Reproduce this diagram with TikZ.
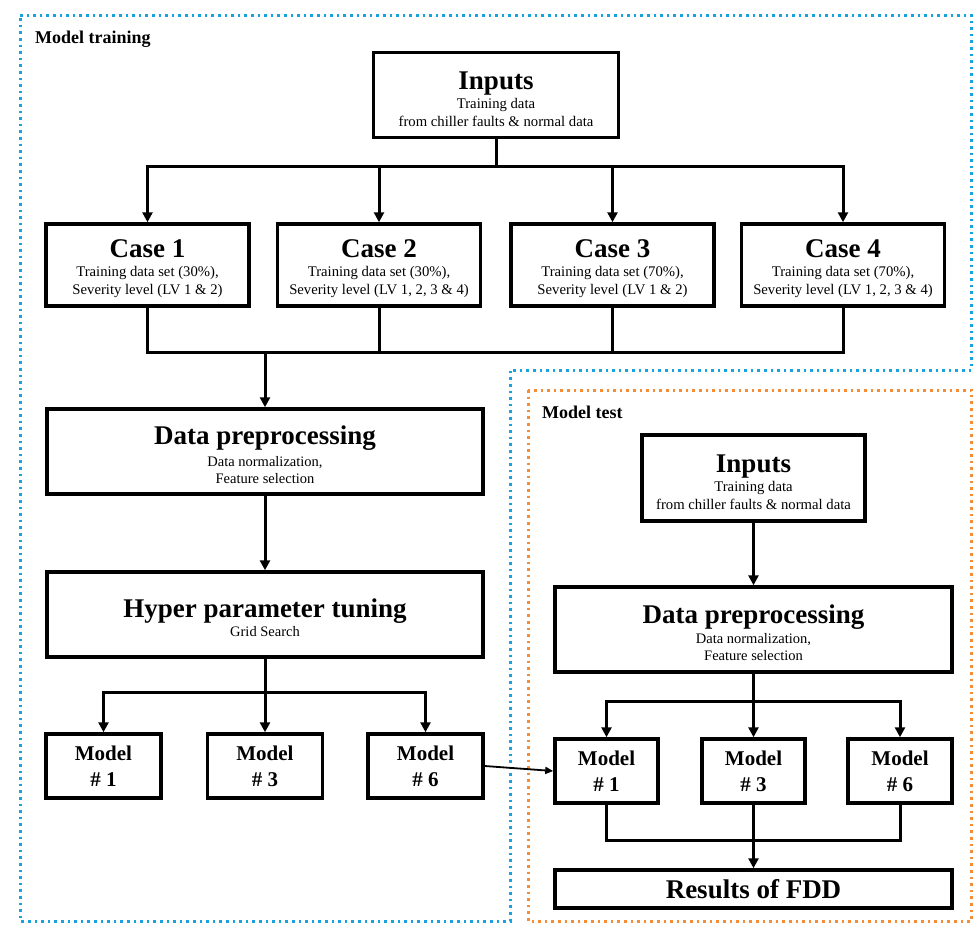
\documentclass[tikz,border=0pt]{standalone}
\usepackage{fontspec}
\setmainfont{Liberation Serif}
\usetikzlibrary{arrows.meta}
\definecolor{tblue}{RGB}{25,162,222}
\definecolor{torange}{RGB}{245,140,55}
\newcommand\boxtitle[1]{{\fontsize{27}{30}\selectfont\bfseries\rule{0pt}{26pt}#1}}
\begin{document}
\begin{tikzpicture}[x=1pt,y=-1pt,
  box/.style={draw,line width=3.5pt,inner sep=2pt,align=center,font=\fontsize{14.7}{18}\selectfont},
  modelbox/.style={draw,line width=3.5pt,inner sep=2pt,align=center,font=\fontsize{21}{26}\selectfont\bfseries},
  lbl/.style={font=\fontsize{18}{20}\selectfont\bfseries,inner sep=0pt},
  conn/.style={line width=3pt},
  arr/.style={conn,-{Triangle[length=10pt,width=10pt]}},
  thinarr/.style={line width=1.8pt,-{Triangle[length=8pt,width=7pt]}},
  dotb/.style={tblue,line width=3pt,dash pattern=on 2.6pt off 4pt},
  doto/.style={torange,line width=3pt,dash pattern=on 2.6pt off 4pt}]
\useasboundingbox (0,0) rectangle (974,924);
% regions
\draw[dotb] (20,15) -- (971.5,15) -- (971.5,370) -- (510,370) -- (510,921) -- (20,921) -- cycle;
\draw[doto] (528,390) rectangle (971.5,921);
\node[lbl,anchor=base west] (ltrain) at (35,43) {Model training};
\node[lbl,anchor=base west] (ltest) at (542,418) {Model test};
% training
\node[box,minimum width=245pt,minimum height=85pt] (in) at (496,95) {\boxtitle{Inputs}\\[1pt]Training data\\from chiller faults \& normal data};
\node[box,minimum width=203pt,minimum height=82pt] (c1) at (147.5,265) {\boxtitle{Case 1}\\[1pt]Training data set (30\%),\\Severity level (LV 1 \& 2)};
\node[box,minimum width=203pt,minimum height=82pt] (c2) at (379,265) {\boxtitle{Case 2}\\[1pt]Training data set (30\%),\\Severity level (LV 1, 2, 3 \& 4)};
\node[box,minimum width=203pt,minimum height=82pt] (c3) at (612.5,265) {\boxtitle{Case 3}\\[1pt]Training data set (70\%),\\Severity level (LV 1 \& 2)};
\node[box,minimum width=203pt,minimum height=82pt] (c4) at (843,265) {\boxtitle{Case 4}\\[1pt]Training data set (70\%),\\Severity level (LV 1, 2, 3 \& 4)};
\node[box,minimum width=436pt,minimum height=85pt,font=\fontsize{14.5}{17}\selectfont] (dp) at (265,451.5) {\boxtitle{Data preprocessing}\\[5pt]Data normalization,\\Feature selection};
\node[box,minimum width=436pt,minimum height=85pt,font=\fontsize{14.5}{17}\selectfont] (hp) at (265,614.5) {\boxtitle{Hyper parameter tuning}\\[2pt]Grid Search};
\node[modelbox,minimum width=115pt,minimum height=64pt] (m1) at (103.5,766) {Model\\\# 1};
\node[modelbox,minimum width=115pt,minimum height=64pt] (m3) at (265,766) {Model\\\# 3};
\node[modelbox,minimum width=115pt,minimum height=64pt] (m6) at (425.5,766) {Model\\\# 6};
% test
\node[box,minimum width=223pt,minimum height=86pt] (tin) at (753.5,478) {\boxtitle{Inputs}\\[1pt]Training data\\from chiller faults \& normal data};
\node[box,minimum width=397pt,minimum height=85pt,font=\fontsize{14.5}{17}\selectfont] (tdp) at (753.5,629.5) {\boxtitle{Data preprocessing}\\[3pt]Data normalization,\\Feature selection};
\node[modelbox,minimum width=103pt,minimum height=64pt] (tm1) at (606.5,771) {Model\\\# 1};
\node[modelbox,minimum width=103pt,minimum height=64pt] (tm3) at (753.5,771) {Model\\\# 3};
\node[modelbox,minimum width=104pt,minimum height=64pt] (tm6) at (900,771) {Model\\\# 6};
\node[box,minimum width=397pt,minimum height=38pt,font=\fontsize{27}{30}\selectfont\bfseries] (res) at (753.5,889) {Results of FDD};
% training connectors
\coordinate (s1) at (496,166);
\draw[conn] (in.south) -- (s1);
\draw[arr] (s1) -| (c1.north);
\draw[arr] (s1) -| (c4.north);
\draw[arr] (s1 -| c2.north) -- (c2.north);
\draw[arr] (s1 -| c3.north) -- (c3.north);
\coordinate (j1) at (265,352);
\draw[conn] (c1.south) |- (j1);
\draw[conn] (c4.south) |- (j1);
\draw[conn] (c2.south) -- (c2.south |- j1);
\draw[conn] (c3.south) -- (c3.south |- j1);
\draw[arr] (j1) -- (dp.north);
\draw[arr] (dp.south) -- (hp.north);
\coordinate (s2) at (265,692);
\draw[conn] (hp.south) -- (s2);
\draw[arr] (s2) -| (m1.north);
\draw[arr] (s2) -| (m6.north);
\draw[arr] (s2) -- (m3.north);
% cross
\draw[thinarr] (m6.east) -- (tm1.west);
% test connectors
\draw[arr] (tin.south) -- (tdp.north);
\coordinate (s3) at (753.5,701);
\draw[conn] (tdp.south) -- (s3);
\draw[arr] (s3) -| (tm1.north);
\draw[arr] (s3) -| (tm6.north);
\draw[arr] (s3) -- (tm3.north);
\coordinate (j2) at (753.5,840);
\draw[conn] (tm1.south) |- (j2);
\draw[conn] (tm6.south) |- (j2);
\draw[arr] (tm3.south) -- (res.north);
\end{tikzpicture}
\end{document}
